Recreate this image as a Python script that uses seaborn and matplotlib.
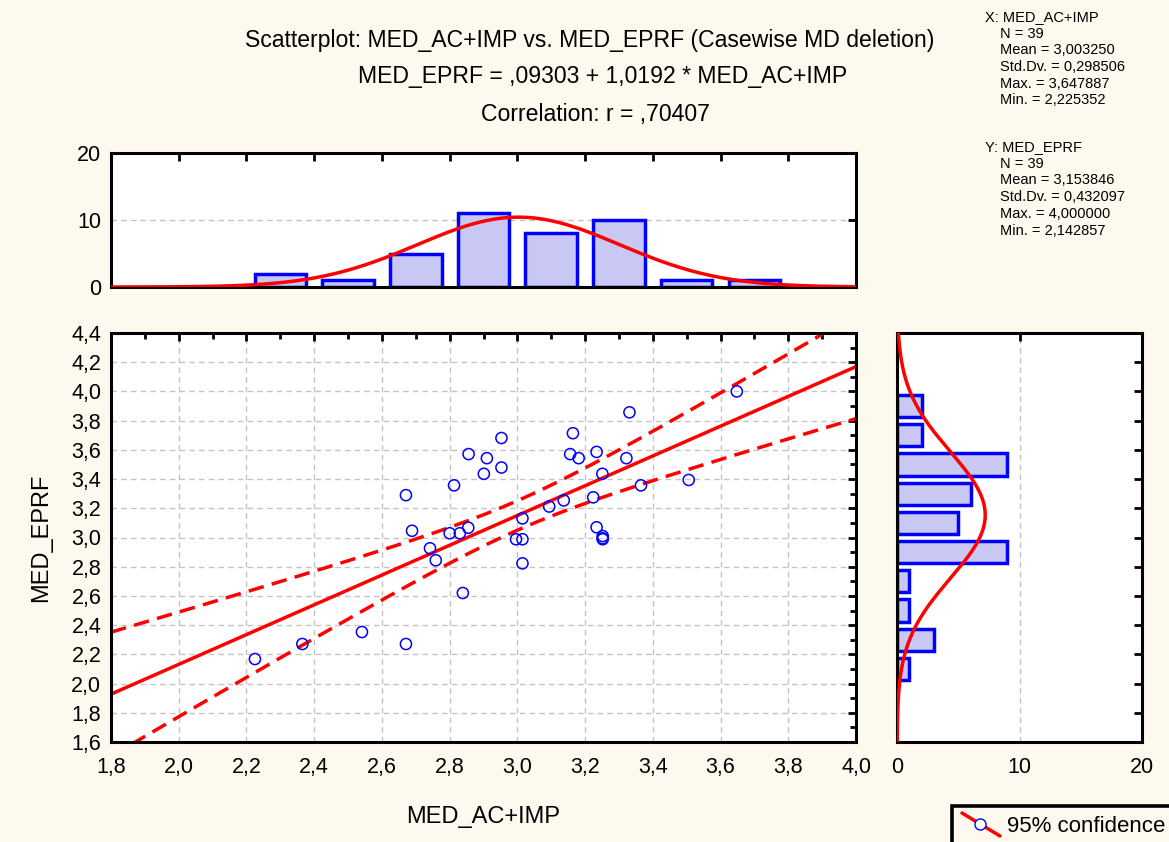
import numpy as np
import pandas as pd
import seaborn as sns
import matplotlib
matplotlib.use("Agg")
import matplotlib.pyplot as plt
from matplotlib.patches import Rectangle
from matplotlib.lines import Line2D
from matplotlib.ticker import MultipleLocator, FixedLocator, FuncFormatter

# ---------------- data ----------------
med_ac_imp = [3.648, 3.331, 3.164, 2.953, 2.856, 2.910, 3.156, 3.181, 3.234, 3.322,
              2.953, 2.901, 3.251, 2.813, 2.671, 3.365, 3.224, 3.137, 3.094, 3.015,
              2.689, 2.800, 2.830, 2.855, 3.234, 3.252, 3.252, 2.996, 3.015, 2.742,
              2.759, 3.015, 2.839, 2.671, 3.506, 2.225, 2.365, 2.541, 3.252]
med_eprf = [4.000, 3.857, 3.714, 3.681, 3.571, 3.543, 3.571, 3.543, 3.586, 3.543,
            3.479, 3.436, 3.436, 3.357, 3.290, 3.357, 3.275, 3.254, 3.212, 3.131,
            3.046, 3.029, 3.029, 3.067, 3.070, 3.010, 2.988, 2.988, 2.988, 2.926,
            2.844, 2.823, 2.620, 2.271, 3.394, 2.168, 2.271, 2.353, 2.995]

x_bin_centers = [2.3, 2.5, 2.7, 2.9, 3.1, 3.3, 3.5, 3.7]
x_bin_counts = [2, 1, 5, 11, 8, 10, 1, 1]
y_bin_centers = [2.1, 2.3, 2.5, 2.7, 2.9, 3.1, 3.3, 3.5, 3.7, 3.9]
y_bin_counts = [1, 3, 1, 1, 9, 5, 6, 9, 2, 2]
bin_width = 0.2

n_cases = 39
x_mean, x_sd, x_max, x_min = 3.003250, 0.298506, 3.647887, 2.225352
y_mean, y_sd, y_max, y_min = 3.153846, 0.432097, 4.000000, 2.142857
r_value = 0.70407
intercept, slope = 0.09303, 1.0192
t_975 = 2.0262  # t(0.975, df=37)

x_tick_values = [1.8, 2.0, 2.2, 2.4, 2.6, 2.8, 3.0, 3.2, 3.4, 3.6, 3.8, 4.0]
y_tick_values = [1.6, 1.8, 2.0, 2.2, 2.4, 2.6, 2.8, 3.0, 3.2, 3.4, 3.6, 3.8, 4.0, 4.2, 4.4]
count_ticks = [0, 10, 20]

# ---------------- style ----------------
sns.set_style("white")
plt.rcParams["font.family"] = ["Liberation Sans", "DejaVu Sans"]
plt.rcParams["text.color"] = "black"
plt.rcParams["axes.labelcolor"] = "black"

W, H = 1169, 842
BG = "#FDF9EE"
BLUE = "#0000FF"
RED = "#FF0000"
BAR_FILL = "#C8C8F2"
GRID = "#C4C4C4"
TICK_FS = 15.5

fig = plt.figure(figsize=(W / 100, H / 100), dpi=100, facecolor=BG)


def box(l, t, r, b):
    return [l / W, 1 - b / H, (r - l) / W, (b - t) / H]


ax = fig.add_axes(box(111, 333, 856, 742))
axt = fig.add_axes(box(111, 153, 856, 287))
axr = fig.add_axes(box(897, 333, 1142, 742))

comma = FuncFormatter(lambda v, p: f"{v:.1f}".replace(".", ","))

for a in (ax, axt, axr):
    a.set_facecolor("white")
    for s in a.spines.values():
        s.set_linewidth(2.2)
        s.set_color("black")
    a.tick_params(which="both", direction="in", top=True, right=True,
                  width=2, colors="black", labelsize=TICK_FS)
    a.tick_params(axis="y", pad=7)
    a.tick_params(axis="x", pad=11)
    a.tick_params(which="major", length=6)
    a.tick_params(which="minor", length=4)
    a.set_axisbelow(True)

# ---------------- main scatter ----------------
df = pd.DataFrame({"MED_AC+IMP": med_ac_imp, "MED_EPRF": med_eprf})
xs = np.linspace(1.8, 4.0, 300)
yhat = intercept + slope * xs
s_res = y_sd * np.sqrt((1 - r_value ** 2) * (n_cases - 1) / (n_cases - 2))
se = s_res * np.sqrt(1 / n_cases + (xs - x_mean) ** 2 / ((n_cases - 1) * x_sd ** 2))
upper = yhat + t_975 * se
lower = yhat - t_975 * se

sns.lineplot(x=xs, y=yhat, ax=ax, color=RED, lw=2.5, sort=False, estimator=None)
for band in (upper, lower):
    sns.lineplot(x=xs, y=band, ax=ax, color=RED, lw=2.5, sort=False,
                 estimator=None, dashes=False).lines[-1].set_dashes((4.5, 2.4))
sns.scatterplot(data=df, x="MED_AC+IMP", y="MED_EPRF", ax=ax, marker="o", s=64,
                facecolors="none", edgecolor=BLUE, linewidth=1.1, zorder=5)

ax.set_xlim(1.8, 4.0)
ax.set_ylim(1.6, 4.4)
ax.xaxis.set_major_locator(FixedLocator(x_tick_values))
ax.yaxis.set_major_locator(FixedLocator(y_tick_values))
ax.xaxis.set_minor_locator(MultipleLocator(0.1))
ax.yaxis.set_minor_locator(MultipleLocator(0.1))
ax.xaxis.set_major_formatter(comma)
ax.yaxis.set_major_formatter(comma)
ax.grid(True, which="major", color=GRID, lw=1.0, ls=(0, (4, 3)))
ax.set_xlabel("MED_AC+IMP", fontsize=17, labelpad=20)
ax.set_ylabel("MED_EPRF", fontsize=17, labelpad=14)

# ---------------- top histogram ----------------
axt.bar(x_bin_centers, x_bin_counts, width=0.152, facecolor=BAR_FILL,
        edgecolor=BLUE, linewidth=2.5, zorder=2)
dens_x = n_cases * bin_width * np.exp(-0.5 * ((xs - x_mean) / x_sd) ** 2) / (x_sd * np.sqrt(2 * np.pi))
sns.lineplot(x=xs, y=dens_x, ax=axt, color=RED, lw=2.5, sort=False, estimator=None, zorder=3)
axt.set_xlim(1.8, 4.0)
axt.set_ylim(0, 20)
axt.xaxis.set_major_locator(FixedLocator(x_tick_values))
axt.yaxis.set_major_locator(FixedLocator(count_ticks))
axt.tick_params(axis="x", labelbottom=False)
axt.grid(True, axis="y", color=GRID, lw=1.0, ls=(0, (4, 3)))
axt.set_xlabel("")
axt.set_ylabel("")

# ---------------- right histogram ----------------
axr.barh(y_bin_centers, y_bin_counts, height=0.152, facecolor=BAR_FILL,
         edgecolor=BLUE, linewidth=2.5, zorder=2)
ys = np.linspace(1.6, 4.4, 300)
dens_y = n_cases * bin_width * np.exp(-0.5 * ((ys - y_mean) / y_sd) ** 2) / (y_sd * np.sqrt(2 * np.pi))
sns.lineplot(x=dens_y, y=ys, ax=axr, color=RED, lw=2.5, sort=False, estimator=None, zorder=3)
axr.set_xlim(0, 20)
axr.set_ylim(1.6, 4.4)
axr.xaxis.set_major_locator(FixedLocator(count_ticks))
axr.yaxis.set_major_locator(FixedLocator(y_tick_values))
axr.tick_params(axis="y", labelleft=False)
axr.grid(True, axis="x", color=GRID, lw=1.0, ls=(0, (4, 3)))
axr.set_xlabel("")
axr.set_ylabel("")

# ---------------- titles ----------------
TITLE_FS = 16.6
fig.text(590 / W, 1 - 40 / H, "Scatterplot: MED_AC+IMP vs. MED_EPRF (Casewise MD deletion)",
         ha="center", va="center", fontsize=TITLE_FS)
fig.text(603 / W, 1 - 77 / H, "MED_EPRF = ,09303 + 1,0192 * MED_AC+IMP",
         ha="center", va="center", fontsize=TITLE_FS)
fig.text(595 / W, 1 - 114 / H, "Correlation: r = ,70407",
         ha="center", va="center", fontsize=TITLE_FS)

# ---------------- stats block ----------------
def fmt6(v):
    return f"{v:.6f}".replace(".", ",")

stat_blocks = [
    (17, "X: MED_AC+IMP", [f"N = {n_cases}", f"Mean = {fmt6(x_mean)}", f"Std.Dv. = {fmt6(x_sd)}",
                          f"Max. = {fmt6(x_max)}", f"Min. = {fmt6(x_min)}"]),
    (147, "Y: MED_EPRF", [f"N = {n_cases}", f"Mean = {fmt6(y_mean)}", f"Std.Dv. = {fmt6(y_sd)}",
                         f"Max. = {fmt6(y_max)}", f"Min. = {fmt6(y_min)}"]),
]
for y0, head, lines in stat_blocks:
    fig.text(985 / W, 1 - y0 / H, head, ha="left", va="center", fontsize=10.5)
    for i, ln in enumerate(lines):
        fig.text(1000 / W, 1 - (y0 + 16.7 * (i + 1)) / H, ln, ha="left", va="center", fontsize=10.5)

# ---------------- legend box ----------------
fig.add_artist(Rectangle((952 / W, -0.02), (W + 20 - 952) / W, 0.02 + (H - 806) / H,
                         transform=fig.transFigure, facecolor=BG, edgecolor="black",
                         linewidth=2.6, clip_on=False))
fig.add_artist(Line2D([962 / W, 1000 / W], [1 - 813 / H, 1 - 836 / H],
                      transform=fig.transFigure, color=RED, lw=2.5))
fig.add_artist(Line2D([980 / W], [1 - 823.5 / H], transform=fig.transFigure,
                      marker="o", markersize=8, markerfacecolor="white",
                      markeredgecolor=BLUE, markeredgewidth=1.0, linestyle="none"))
fig.text(1007 / W, 1 - 826 / H, "95% confidence", ha="left", va="center", fontsize=16)

fig.savefig("out.png", dpi=100, facecolor=BG)
